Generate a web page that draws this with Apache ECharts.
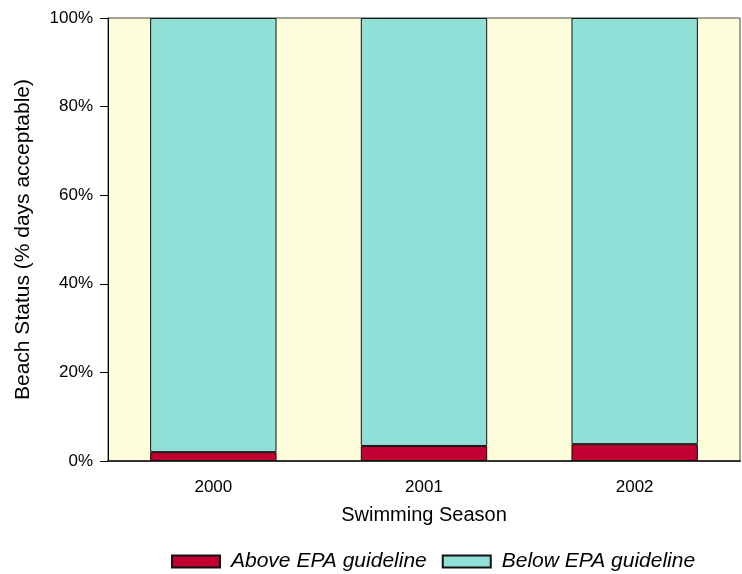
<!DOCTYPE html>
<html><head><meta charset="utf-8">
<script src="https://cdn.jsdelivr.net/npm/echarts@6/dist/echarts.min.js"></script>
<style>html,body{margin:0;padding:0;background:#fff}#c{width:742px;height:574px}</style>
</head><body><div id="c"></div>
<script>
var seasons = ['2000', '2001', '2002'];
var aboveEPA = [2.0, 3.4, 3.8];
var belowEPA = [98.0, 96.6, 96.2];
var yTicks = [0, 20, 40, 60, 80, 100];

var chart = echarts.init(document.getElementById('c'));
var font = 'Liberation Sans, Arial, sans-serif';
chart.setOption({
  animation: false,
  textStyle: {fontFamily: font},
  grid: {left: 108, right: 2, top: 18, bottom: 113, show: true,
         backgroundColor: '#FEFEDC', borderColor: '#444', borderWidth: 1},
  legend: {
    top: 546, left: 166,
    icon: 'rect',
    itemWidth: 48, itemHeight: 12, itemGap: 15,
    textStyle: {fontStyle: 'italic', fontSize: 21, color: '#000', fontFamily: font,
                padding: [0, 0, 0, 6]},
    data: ['Above EPA guideline', 'Below EPA guideline']
  },
  xAxis: {
    type: 'category', data: seasons,
    axisLine: {lineStyle: {color: '#333', width: 2}},
    axisTick: {alignWithLabel: true, length: 6, lineStyle: {color: '#000'}},
    axisLabel: {color: '#000', fontSize: 17, margin: 18},
    name: 'Swimming Season', nameLocation: 'middle', nameGap: 44,
    nameTextStyle: {color: '#000', fontSize: 20}
  },
  yAxis: {
    type: 'value', min: yTicks[0], max: yTicks[yTicks.length - 1], interval: 20,
    axisLine: {show: true, lineStyle: {color: '#000', width: 1}},
    axisTick: {show: true, length: 8, lineStyle: {color: '#000'}},
    axisLabel: {color: '#000', fontSize: 17, margin: 15, formatter: '{value}%'},
    splitLine: {show: false},
    name: 'Beach Status (% days acceptable)', nameLocation: 'middle', nameGap: 74,
    nameTextStyle: {color: '#000', fontSize: 21}
  },
  series: [
    {name: 'Above EPA guideline', type: 'bar', stack: 's', data: aboveEPA,
     barWidth: '60%',
     itemStyle: {color: '#C10032', borderColor: '#111', borderWidth: 1}},
    {name: 'Below EPA guideline', type: 'bar', stack: 's', data: belowEPA,
     barWidth: '60%',
     itemStyle: {color: '#90E0D7', borderColor: '#111', borderWidth: 1}}
  ]
});
</script></body></html>
